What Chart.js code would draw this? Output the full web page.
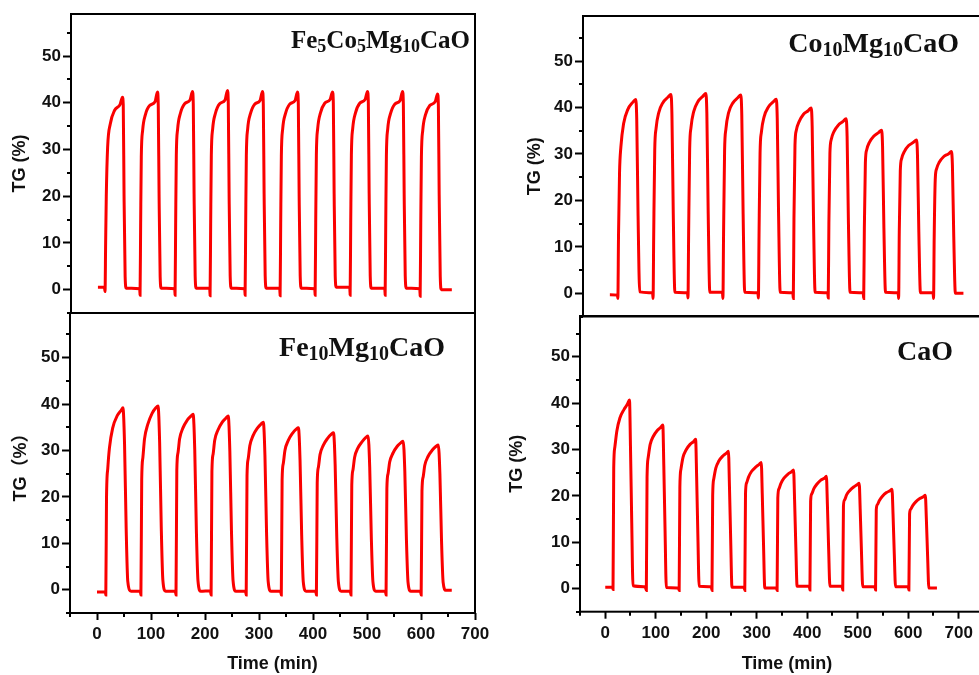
<!DOCTYPE html>
<html>
<head>
<meta charset="utf-8">
<script src="https://cdn.jsdelivr.net/npm/chart.js@4.4.1/dist/chart.umd.min.js"></script>
<style>
  html, body { margin: 0; padding: 0; background: #fff; overflow: hidden; }
  body { width: 979px; height: 675px; position: relative; }
  canvas { position: absolute; }
</style>
</head>
<body>
<canvas id="tl" width="490" height="330" style="left:0;top:0"></canvas>
<canvas id="tr" width="510" height="330" style="left:490px;top:0"></canvas>
<canvas id="bl" width="500" height="375" style="left:0;top:300px"></canvas>
<canvas id="br" width="520" height="375" style="left:490px;top:300px"></canvas>
<script>
// TG cycling curves, time in min, mass gain in %
const tlTime = [0, 12,
  13.2, 14.3, 15.5, 18, 23, 31, 41, 45.5, 47, 48.5, 50.5, 52.5, 77.5,
  78.2, 79.3, 80.5, 83, 88, 96, 106, 110.5, 112, 113.5, 115.5, 117.5, 142.5,
  143.2, 144.3, 145.5, 148, 153, 161, 171, 175.5, 177, 178.5, 180.5, 182.5, 207.5,
  208.2, 209.3, 210.5, 213, 218, 226, 236, 240.5, 242, 243.5, 245.5, 247.5, 272.5,
  273.2, 274.3, 275.5, 278, 283, 291, 301, 305.5, 307, 308.5, 310.5, 312.5, 337.5,
  338.2, 339.3, 340.5, 343, 348, 356, 366, 370.5, 372, 373.5, 375.5, 377.5, 402.5,
  403.2, 404.3, 405.5, 408, 413, 421, 431, 435.5, 437, 438.5, 440.5, 442.5, 467.5,
  468.2, 469.3, 470.5, 473, 478, 486, 496, 500.5, 502, 503.5, 505.5, 507.5, 532.5,
  533.2, 534.3, 535.5, 538, 543, 551, 561, 565.5, 567, 568.5, 570.5, 572.5, 597.5,
  598.2, 599.3, 600.5, 603, 608, 616, 626, 630.5, 632, 633.5, 635.5, 637.5, 657];
const tlTG = [0.5, 0.5,
  -0.4, 10, 20, 30.5, 35.5, 38.4, 39.6, 41.2, 39.6, 20, 2.8, 0.3, 0.2,
  -1.2, 14.2, 28.4, 34.1, 37.4, 39.4, 40.2, 42.3, 39.4, 20.3, 2.8, 0.3, 0.2,
  -1.2, 14.4, 28.7, 34.4, 37.7, 39.8, 40.6, 42.4, 39.8, 20.5, 2.9, 0.3, 0.3,
  -1.3, 14.4, 28.7, 34.4, 37.7, 39.8, 40.6, 42.6, 39.8, 20.5, 2.9, 0.3, 0.2,
  -1.2, 14.3, 28.6, 34.4, 37.6, 39.7, 40.5, 42.4, 39.7, 20.5, 2.9, 0.3, 0.3,
  -1.3, 14.3, 28.6, 34.4, 37.6, 39.7, 40.5, 42.3, 39.7, 20.5, 2.9, 0.3, 0.2,
  -1.2, 14.4, 28.8, 34.5, 37.8, 39.9, 40.7, 42.3, 39.9, 20.6, 2.9, 0.5, 0.5,
  -1.2, 14.4, 28.8, 34.5, 37.8, 39.9, 40.7, 42.4, 39.9, 20.6, 2.9, 0.3, 0.3,
  -1.2, 14.3, 28.6, 34.4, 37.6, 39.7, 40.5, 42.4, 39.7, 20.5, 2.9, 0.3, 0.2,
  -1.4, 14.2, 28.4, 34.1, 37.4, 39.4, 40.2, 41.9, 39.4, 20.3, 2.8, 0, 0];

const trTime = [0, 14,
  14.9, 16.1, 18, 20.5, 25.5, 33.5, 42.5, 48, 50, 52.5, 55.5, 79.5,
  80.4, 81.6, 83.5, 86, 91, 99, 108, 113.5, 115.5, 118, 121, 144.5,
  145.4, 146.6, 148.5, 151, 156, 164, 173, 178.5, 180.5, 183, 186, 209.5,
  210.4, 211.6, 213.5, 216, 221, 229, 238, 243.5, 245.5, 248, 251, 275.5,
  276.4, 277.6, 279.5, 282, 287, 295, 304, 309.5, 311.5, 314, 317, 340.5,
  341.4, 342.6, 344.5, 347, 352, 360, 369, 374.5, 376.5, 379, 382, 405.5,
  406.4, 407.6, 409.5, 412, 417, 425, 434, 439.5, 441.5, 444, 447, 471.5,
  472.4, 473.6, 475.5, 478, 483, 491, 500, 505.5, 507.5, 510, 513, 536.5,
  537.4, 538.6, 540.5, 543, 548, 556, 565, 570.5, 572.5, 575, 578, 601.5,
  602.4, 603.6, 605.5, 608, 613, 621, 630, 635.5, 637.5, 640, 643, 658];
const trTG = [-0.3, -0.4,
  -1.1, 12.5, 26, 31.5, 36.5, 39.6, 41.1, 41.7, 37.5, 16.7, 0.3, 0.1,
  -1.1, 12.8, 30.8, 35.5, 38.9, 41.1, 42.2, 42.8, 38.5, 17.1, 0.2, 0.1,
  -1.0, 12.9, 31, 35.7, 39.1, 41.3, 42.4, 43, 38.7, 17.2, 0.2, 0.2,
  -1.1, 12.8, 30.7, 35.4, 38.9, 41, 42.1, 42.7, 38.4, 17.1, 0.2, 0.1,
  -1.0, 12.5, 30.1, 34.7, 38, 40.1, 41.2, 41.8, 37.6, 16.7, 0.2, 0.1,
  -1.1, 16, 31.9, 35.1, 36.9, 38.5, 39.3, 39.9, 35.9, 16, 0.2, 0.1,
  -1.0, 15, 30.1, 33.1, 34.8, 36.2, 37, 37.6, 33.8, 15, 0.2, 0.1,
  -1.1, 14, 28.1, 30.9, 32.5, 33.8, 34.6, 35.1, 31.6, 14, 0.2, 0.1,
  -1.1, 13.2, 26.4, 29, 30.5, 31.8, 32.5, 33, 29.7, 13.2, 0.1, 0.1,
  -1.1, 12.2, 24.4, 26.8, 28.2, 29.4, 30, 30.5, 27.5, 12.2, 0, 0];

const blTime = [0, 15.6,
  16.3, 17.6, 20, 23, 29, 38, 45, 48, 51, 54, 57, 63, 80,
  81.3, 82.8, 85, 88, 94, 102, 109, 113, 116, 119, 122, 127, 145,
  146.3, 147.8, 150, 153, 159, 167, 174, 178, 181, 184, 187, 192, 210,
  211.3, 212.8, 215, 218, 224, 232, 239, 243, 246, 249, 252, 257, 275,
  276.3, 277.8, 280, 283, 289, 297, 304, 308, 311, 314, 317, 322, 340,
  341.3, 342.8, 345, 348, 354, 362, 369, 373, 376, 379, 382, 387, 405,
  406.3, 407.8, 410, 413, 419, 427, 434, 438, 441, 444, 447, 452, 469,
  470.3, 471.8, 474, 477, 483, 491, 498, 502, 505, 508, 511, 516, 534,
  535.3, 536.8, 539, 542, 548, 556, 563, 567, 570, 573, 576, 581, 599,
  600.3, 601.8, 604, 607, 613, 621, 628, 632, 635, 638, 641, 646, 657];
const blTG = [-0.5, -0.5,
  -1.1, 19.7, 26.2, 30.5, 34.8, 37.6, 38.7, 39.2, 31.4, 13.3, 1.8, -0.3, -0.3,
  -1.1, 23.8, 28.5, 32.5, 35.6, 38, 39.2, 39.6, 31.7, 13.5, 2, -0.3, -0.3,
  -1.1, 25.7, 29.5, 32.5, 34.8, 36.5, 37.4, 37.8, 30.2, 12.9, 1.9, -0.3, -0.2,
  -1.1, 25.4, 29.2, 32.2, 34.4, 36.1, 37, 37.4, 29.9, 12.7, 1.9, -0.3, -0.3,
  -1.1, 24.5, 28.2, 31, 33.2, 34.8, 35.7, 36.1, 28.9, 12.3, 1.8, -0.3, -0.3,
  -1.1, 23.7, 27.2, 30, 32.1, 33.7, 34.6, 34.9, 27.9, 11.9, 1.7, -0.3, -0.3,
  -1.1, 23, 26.4, 29.1, 31.1, 32.6, 33.5, 33.8, 27, 11.5, 1.7, -0.3, -0.3,
  -1.1, 22.5, 25.8, 28.5, 30.5, 31.9, 32.8, 33.1, 26.5, 11.3, 1.7, -0.3, -0.3,
  -1.1, 21.8, 25, 27.5, 29.4, 30.9, 31.7, 32, 25.6, 10.9, 1.6, -0.3, -0.3,
  -1.1, 21.2, 24.3, 26.8, 28.7, 30.1, 30.9, 31.2, 25, 10.6, 1.6, -0.1, -0.1];

const brTime = [0, 14.5,
  15.4, 16.8, 19, 23, 29, 37, 44, 48, 50, 52.5, 55, 79,
  81.4, 82.8, 85, 89, 95, 103, 110, 114, 116, 118.5, 121, 145,
  146.4, 147.8, 150, 154, 160, 168, 175, 179, 181, 183.5, 186, 210,
  211.4, 212.8, 215, 219, 225, 233, 240, 244, 246, 248.5, 251, 275,
  276.4, 277.8, 280, 284, 290, 298, 305, 309, 311, 313.5, 316, 339,
  340.4, 341.8, 344, 348, 354, 362, 369, 373, 375, 377.5, 380, 404,
  405.4, 406.8, 409, 413, 419, 427, 434, 438, 440, 442.5, 445, 469,
  470.4, 471.8, 474, 478, 484, 492, 499, 503, 505, 507.5, 510, 534,
  535.4, 536.8, 539, 543, 549, 557, 564, 568, 570, 572.5, 575, 600,
  601.4, 602.8, 605, 609, 615, 623, 630, 634, 636, 638.5, 641, 657];
const brTG = [0.3, 0.3,
  -0.2, 26, 30.5, 34, 36.8, 38.6, 39.8, 40.7, 30.5, 14.2, 0.6, 0.4,
  -0.4, 24, 28.2, 31.1, 32.8, 34.1, 34.8, 35.3, 26.5, 12.4, 0.2, 0.1,
  -0.4, 21.9, 25.8, 28.3, 29.9, 31.1, 31.7, 32.2, 24.2, 11.3, 0.5, 0.4,
  -0.4, 20.1, 23.7, 26, 27.5, 28.6, 29.2, 29.6, 22.2, 10.4, 0.3, 0.3,
  -0.4, 20.4, 22.8, 24.1, 25.3, 26.2, 26.8, 27.2, 20.4, 9.5, 0.1, 0.1,
  -0.4, 19.5, 21.5, 22.7, 23.8, 24.7, 25.2, 25.6, 19.2, 9, 0.5, 0.5,
  -0.3, 18.8, 20.4, 21.5, 22.5, 23.4, 23.8, 24.2, 18.2, 8.5, 0.5, 0.5,
  -0.3, 17.8, 19.1, 20.2, 21.1, 21.9, 22.4, 22.7, 17, 7.9, 0.4, 0.4,
  -0.3, 17, 18.1, 19, 19.9, 20.7, 21.1, 21.4, 16.1, 7.5, 0.4, 0.4,
  -0.3, 16.1, 17.1, 17.9, 18.7, 19.4, 19.8, 20.1, 15.1, 7, 0.1, 0.1];

// sample names, [text, isSubscript]
const tlName = [['Fe', 0], ['5', 1], ['Co', 0], ['5', 1], ['Mg', 0], ['10', 1], ['CaO', 0]];
const trName = [['Co', 0], ['10', 1], ['Mg', 0], ['10', 1], ['CaO', 0]];
const blName = [['Fe', 0], ['10', 1], ['Mg', 0], ['10', 1], ['CaO', 0]];
const brName = [['CaO', 0]];

const RED = 'rgb(250, 0, 0)';
const SANS = '"Liberation Sans", Arial, "Noto Sans CJK SC", sans-serif';

Chart.defaults.font.family = SANS;
Chart.defaults.font.weight = 'bold';
Chart.defaults.color = '#111';

// box frame, minor ticks and sample name
const panelDeco = {
  id: 'panelDeco',
  afterDraw(chart, args, opts) {
    const ctx = chart.ctx;
    const a = chart.chartArea;
    ctx.save();
    ctx.strokeStyle = '#000';
    ctx.lineWidth = 2;
    ctx.strokeRect(a.left, a.top, a.right - a.left, a.bottom - a.top);

    const ys = chart.scales.y;
    ctx.beginPath();
    for (let v = -5; v <= ys.max; v += 10) {
      const py = Math.round(ys.getPixelForValue(v));
      ctx.moveTo(a.left - 4, py);
      ctx.lineTo(a.left, py);
    }
    if (opts.minorX) {
      const xs = chart.scales.x;
      for (let v = -50; v <= xs.max; v += 100) {
        const px = Math.round(xs.getPixelForValue(v));
        ctx.moveTo(px, a.bottom);
        ctx.lineTo(px, a.bottom + 4);
      }
    }
    ctx.stroke();

    // formula, right aligned, subscripts shrunk and lowered
    const size = opts.size;
    const big = 'bold ' + size + 'px "Liberation Serif", "Times New Roman", serif';
    const small = 'bold ' + Math.round(size * 0.72) + 'px "Liberation Serif", "Times New Roman", serif';
    let width = 0;
    opts.name.forEach(([txt, sub]) => {
      ctx.font = sub ? small : big;
      width += ctx.measureText(txt).width;
    });
    let x = opts.x - width;
    ctx.fillStyle = '#111';
    ctx.textBaseline = 'alphabetic';
    opts.name.forEach(([txt, sub]) => {
      ctx.font = sub ? small : big;
      ctx.fillText(txt, x, opts.y + (sub ? size * 0.16 : 0));
      x += ctx.measureText(txt).width;
    });
    ctx.restore();
  }
};

function makePanel(id, time, tg, p) {
  new Chart(document.getElementById(id), {
    type: 'line',
    data: {
      datasets: [{
        data: time.map((t, i) => ({x: t, y: tg[i]})),
        borderColor: RED,
        borderWidth: 3,
        pointRadius: 0,
        cubicInterpolationMode: 'monotone',
        fill: false
      }]
    },
    options: {
      responsive: false,
      animation: false,
      events: [],
      layout: {padding: p.pad},
      plugins: {
        legend: {display: false},
        tooltip: {enabled: false},
        panelDeco: {name: p.name, x: p.nameX, y: p.nameY, size: p.nameSize, minorX: p.showX}
      },
      scales: {
        x: {
          type: 'linear',
          min: -50,
          max: p.xMax,
          afterFit: s => { s.height = p.xH; },
          border: {display: false},
          grid: {display: p.showX, drawOnChartArea: false, tickLength: 7, tickWidth: 2, tickColor: '#000'},
          ticks: {display: p.showX, stepSize: 100, includeBounds: false, autoSkip: false, maxRotation: 0,
                  padding: 4, font: {size: 17, weight: 'bold'}},
          title: {display: p.showX, text: 'Time (min)', font: {size: 18, weight: 'bold'},
                  padding: {top: 0, bottom: 0}}
        },
        y: {
          min: -5,
          max: p.yMax,
          afterFit: s => { s.width = p.yW; },
          border: {display: false},
          grid: {drawOnChartArea: false, tickLength: 8, tickWidth: 2, tickColor: '#000'},
          ticks: {stepSize: 10, includeBounds: false, padding: 2, font: {size: 17, weight: 'bold'}},
          title: {display: true, text: p.yTitle, font: {size: 18, weight: 'bold'},
                  padding: {top: p.titlePad, bottom: 0}}
        }
      }
    },
    plugins: [panelDeco]
  });
}

makePanel('tl', tlTime, tlTG, {
  pad: {left: 0, top: 14, right: 15, bottom: 0}, yW: 71, xH: 17, xMax: 700, yMax: 59,
  showX: false, yTitle: 'TG (%)', titlePad: 9,
  name: tlName, nameX: 470, nameY: 48, nameSize: 25
});
makePanel('tr', trTime, trTG, {
  pad: {left: 0, top: 16, right: 14, bottom: 0}, yW: 93, xH: 13.5, xMax: 700, yMax: 59.7,
  showX: false, yTitle: 'TG (%)', titlePad: 34,
  name: trName, nameX: 469, nameY: 52, nameSize: 28
});
makePanel('bl', blTime, blTG, {
  pad: {left: 0, top: 13, right: 25, bottom: 0}, yW: 70, xH: 62, xMax: 700, yMax: 59.6,
  showX: true, yTitle: 'TG\uFF08%\uFF09', titlePad: 10,
  name: blName, nameX: 445, nameY: 56, nameSize: 28
});
makePanel('br', brTime, brTG, {
  pad: {left: 0, top: 16, right: 16, bottom: 0}, yW: 90, xH: 63.3, xMax: 770, yMax: 58.8,
  showX: true, yTitle: 'TG (%)', titlePad: 16,
  name: brName, nameX: 463, nameY: 60, nameSize: 28
});
</script>
</body>
</html>
